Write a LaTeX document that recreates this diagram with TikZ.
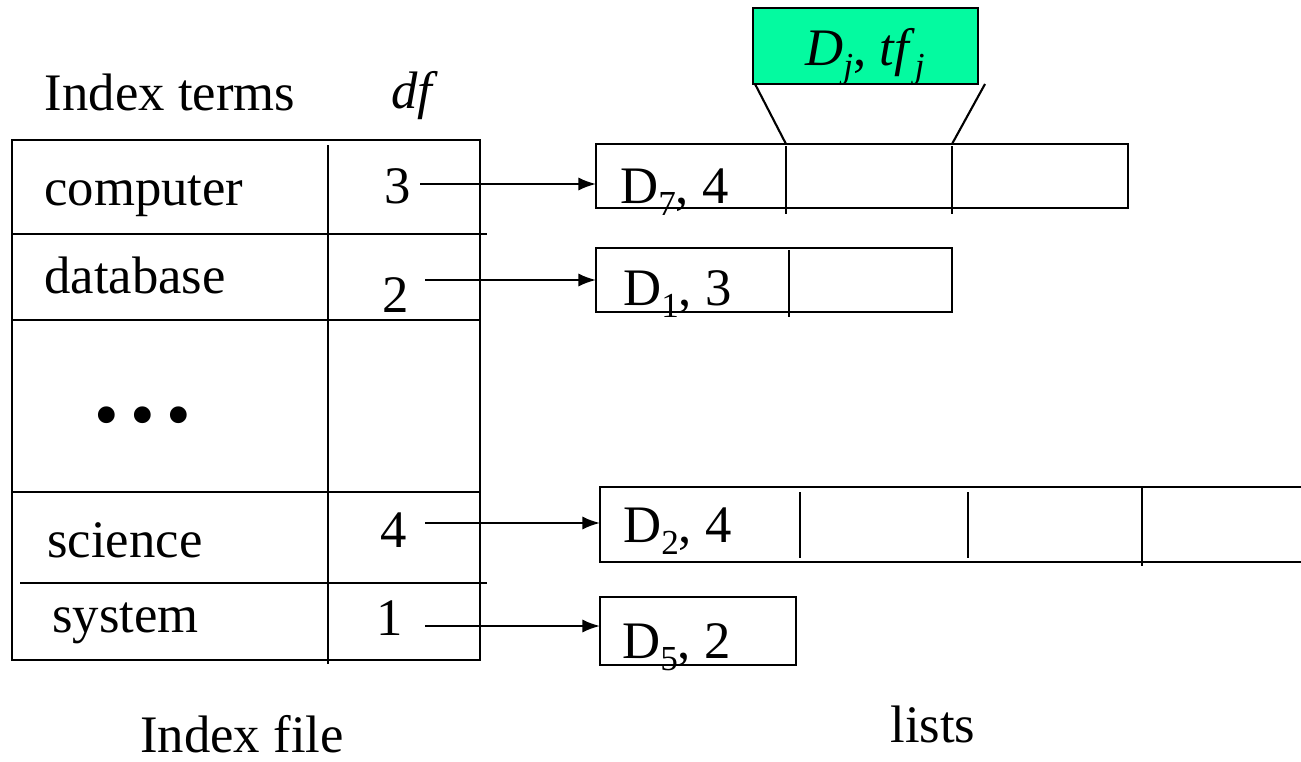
\documentclass[tikz,border=0pt]{standalone}
\usepackage{fontspec}
\setmainfont{Liberation Serif}
\usetikzlibrary{arrows.meta}
\definecolor{headgreen}{RGB}{4,250,160}
\newcommand{\lowsub}[1]{\raisebox{-0.24em}{\fontsize{20}{20}\selectfont #1}}

\tikzset{
  txt/.style={font=\fontsize{30}{36}\selectfont, inner sep=0pt},
  box/.style={line width=1.4pt},
  ptr/.style={-{Latex[length=10pt,width=7.5pt]}, line width=1.2pt}
}

\begin{document}
\begin{tikzpicture}[x=0.02cm,y=-0.02cm]
    \useasboundingbox (0,0) rectangle (1301,761);
    % index file
    \node[txt,anchor=base] (hterm) at (170,110) {Index terms};
    \node[txt,anchor=base] (hdf) at (415,108) {\textit{df}};
    \draw[box] (12,140) rectangle (480,660);
    \draw[box] (12,234) -- (487,234);
    \draw[box] (12,320) -- (480,320);
    \draw[box] (12,492) -- (480,492);
    \draw[box] (20,583) -- (487,583);
    \draw[box] (328,145) -- (328,664);
    \node[txt,anchor=base west] (tcomp) at (44,205) {computer};
    \node[txt,anchor=base west] (tdata) at (44,293) {database};
    \node[txt,anchor=base] (tdots) at (143,438) {\fontsize{40}{40}\selectfont\textbullet\,\textbullet\,\textbullet};
    \node[txt,anchor=base west] (tsci) at (47,557) {science};
    \node[txt,anchor=base west] (tsys) at (52,632) {system};
    \node[txt,anchor=base east] (n3) at (411,203) {3};
    \node[txt,anchor=base east] (n2) at (409,312) {2};
    \node[txt,anchor=base east] (n4) at (407,547) {4};
    \node[txt,anchor=base east] (n1) at (403,635) {1};
    \node[txt,anchor=base] (lfile) at (242,752) {Index file};
    % posting lists
    \draw[box] (596,144) rectangle (1128,208);
    \draw[box] (786,146) -- (786,214);
    \draw[box] (952,146) -- (952,214);
    \draw[box] (596,248) rectangle (952,312);
    \draw[box] (789,250) -- (789,317);
    \draw[box] (1305,487) -- (600,487) -- (600,562) -- (1305,562);
    \draw[box] (800,492) -- (800,558);
    \draw[box] (968,492) -- (968,558);
    \draw[box] (1142,487) -- (1142,566);
    \draw[box] (600,597) rectangle (796,665);
    \node[txt,anchor=base west] (d7) at (620,203) {D\lowsub{7}, 4};
    \node[txt,anchor=base west] (d1) at (623,305) {D\lowsub{1}, 3};
    \node[txt,anchor=base west] (d2) at (623,542) {D\lowsub{2}, 4};
    \node[txt,anchor=base west] (d5) at (622,658) {D\lowsub{5}, 2};
    \node[txt,anchor=base] (llist) at (933,742) {lists};
    % entry format
    \draw[box,fill=headgreen] (753,8) rectangle (978,84);
    \node[txt,anchor=base] (dtf) at (865,65) {\textit{D}\lowsub{\textit{j}}, \textit{tf}\lowsub{\textit{j}}};
    \draw[line width=1.2pt] (755,84) -- (786,144);
    \draw[line width=1.2pt] (985,84) -- (952,144);
    % pointers
    \coordinate (s3) at (420,184);
    \coordinate (s2) at (425,280);
    \coordinate (s4) at (425,523);
    \coordinate (s1) at (425,626);
    \draw[ptr] (s3) -- (s3 -| 596,0);
    \draw[ptr] (s2) -- (s2 -| 596,0);
    \draw[ptr] (s4) -- (s4 -| 600,0);
    \draw[ptr] (s1) -- (s1 -| 600,0);
\end{tikzpicture}
\end{document}
